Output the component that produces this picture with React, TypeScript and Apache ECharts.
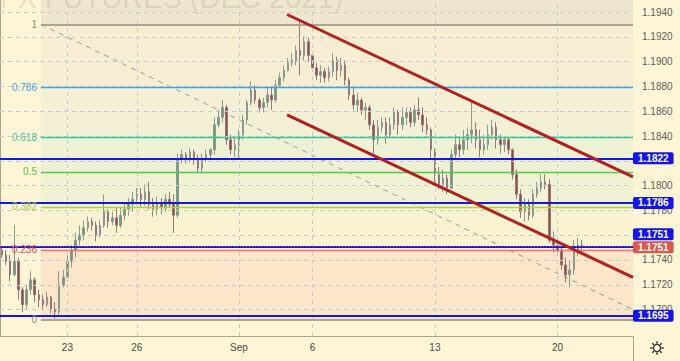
import React, { useEffect, useRef } from "react";
import * as echarts from "echarts";

// [open, close, low, high] per 4-hour slot
const candles: number[][] = [
  [1.1748, 1.1744, 1.1742, 1.1751],
  [1.1744, 1.1739, 1.1736, 1.1748],
  [1.1739, 1.1728, 1.1723, 1.1744],
  [1.1728, 1.1739, 1.1727, 1.1768],
  [1.1739, 1.1716, 1.1708, 1.1742],
  [1.1716, 1.1704, 1.1698, 1.1718],
  [1.1704, 1.1716, 1.17, 1.172],
  [1.1716, 1.1724, 1.1712, 1.1731],
  [1.1724, 1.1712, 1.1706, 1.1726],
  [1.1712, 1.1708, 1.1702, 1.1716],
  [1.1708, 1.1704, 1.17, 1.1712],
  [1.1704, 1.171, 1.1702, 1.1714],
  [1.171, 1.17, 1.1697, 1.1711],
  [1.17, 1.1698, 1.1693, 1.1706],
  [1.1698, 1.172, 1.1696, 1.1731],
  [1.172, 1.1726, 1.1718, 1.1732],
  [1.1726, 1.1739, 1.1723, 1.1744],
  [1.1739, 1.1748, 1.1734, 1.1752],
  [1.1748, 1.1756, 1.1742, 1.1762],
  [1.1756, 1.176, 1.1752, 1.1768],
  [1.176, 1.1766, 1.1756, 1.1772],
  [1.1766, 1.1771, 1.1763, 1.1775],
  [1.1771, 1.1768, 1.1764, 1.1774],
  [1.1768, 1.176, 1.1755, 1.1771],
  [1.176, 1.1768, 1.1758, 1.1772],
  [1.1768, 1.1779, 1.1766, 1.1793],
  [1.1779, 1.1771, 1.1766, 1.1781],
  [1.1771, 1.1774, 1.1768, 1.1779],
  [1.1774, 1.1768, 1.1762, 1.1782],
  [1.1768, 1.1776, 1.1766, 1.1782],
  [1.1776, 1.1781, 1.1772, 1.1786],
  [1.1781, 1.1785, 1.1776, 1.179],
  [1.1785, 1.1789, 1.1779, 1.1795],
  [1.1789, 1.1793, 1.1785, 1.1798],
  [1.1793, 1.1789, 1.1783, 1.1798],
  [1.1789, 1.1795, 1.1784, 1.1801],
  [1.1795, 1.1785, 1.1781, 1.1803],
  [1.1785, 1.1781, 1.1775, 1.179],
  [1.1781, 1.1786, 1.1776, 1.1791],
  [1.1786, 1.1782, 1.1777, 1.179],
  [1.1782, 1.1789, 1.1779, 1.1793],
  [1.1789, 1.1785, 1.1782, 1.1795],
  [1.1785, 1.1776, 1.1762, 1.1793],
  [1.1776, 1.1821, 1.1774, 1.1826],
  [1.1821, 1.1825, 1.1818, 1.1829],
  [1.1825, 1.1822, 1.1818, 1.1827],
  [1.1822, 1.1827, 1.1819, 1.183],
  [1.1827, 1.1821, 1.1817, 1.1829],
  [1.1821, 1.1814, 1.181, 1.1825],
  [1.1814, 1.1822, 1.181, 1.1826],
  [1.1822, 1.1825, 1.1819, 1.1829],
  [1.1825, 1.1829, 1.1822, 1.183],
  [1.1829, 1.1849, 1.1825, 1.1855],
  [1.1849, 1.1855, 1.1847, 1.1861],
  [1.1855, 1.1863, 1.1851, 1.1869],
  [1.1863, 1.1837, 1.1833, 1.1865],
  [1.1837, 1.1829, 1.1825, 1.1841],
  [1.1829, 1.1833, 1.1823, 1.1839],
  [1.1833, 1.1841, 1.1822, 1.1845],
  [1.1841, 1.1853, 1.1837, 1.1857],
  [1.1853, 1.1867, 1.1849, 1.1869],
  [1.1867, 1.1877, 1.1865, 1.1884],
  [1.1877, 1.1869, 1.1866, 1.1881],
  [1.1869, 1.1863, 1.1859, 1.1871],
  [1.1863, 1.1867, 1.1859, 1.1871],
  [1.1867, 1.1873, 1.1863, 1.1879],
  [1.1873, 1.1869, 1.1861, 1.188],
  [1.1869, 1.1881, 1.1867, 1.1885],
  [1.1881, 1.1887, 1.1879, 1.1891],
  [1.1887, 1.1893, 1.1884, 1.1897],
  [1.1893, 1.1899, 1.1892, 1.1903],
  [1.1899, 1.1901, 1.1896, 1.1907],
  [1.1901, 1.1909, 1.1897, 1.1913],
  [1.1909, 1.1905, 1.1889, 1.1932],
  [1.1905, 1.1916, 1.1901, 1.192],
  [1.1916, 1.1905, 1.19, 1.1919],
  [1.1905, 1.1895, 1.1892, 1.1908],
  [1.1895, 1.1889, 1.1885, 1.1899],
  [1.1889, 1.1892, 1.1883, 1.1897],
  [1.1892, 1.1887, 1.1883, 1.1895],
  [1.1887, 1.1892, 1.1884, 1.1896],
  [1.1892, 1.1901, 1.1888, 1.1907],
  [1.1901, 1.1893, 1.1885, 1.1904],
  [1.1893, 1.1897, 1.1888, 1.1903],
  [1.1897, 1.1885, 1.1881, 1.1901],
  [1.1885, 1.1873, 1.1869, 1.1887],
  [1.1873, 1.1865, 1.1861, 1.1879],
  [1.1865, 1.1869, 1.1859, 1.1875],
  [1.1869, 1.1861, 1.1857, 1.1871],
  [1.1861, 1.1863, 1.1853, 1.1867],
  [1.1863, 1.1849, 1.1845, 1.1865],
  [1.1849, 1.1837, 1.1826, 1.1853],
  [1.1837, 1.1847, 1.1833, 1.1853],
  [1.1847, 1.1851, 1.1843, 1.1855],
  [1.1851, 1.1841, 1.1834, 1.1855],
  [1.1841, 1.1849, 1.1839, 1.1855],
  [1.1849, 1.1859, 1.1845, 1.1863],
  [1.1859, 1.1849, 1.1841, 1.1861],
  [1.1849, 1.1855, 1.1845, 1.1863],
  [1.1855, 1.1859, 1.1849, 1.1863],
  [1.1859, 1.1851, 1.1847, 1.1863],
  [1.1851, 1.1861, 1.1848, 1.1865],
  [1.1861, 1.1857, 1.1853, 1.1871],
  [1.1857, 1.1849, 1.1843, 1.1863],
  [1.1849, 1.1845, 1.1841, 1.1855],
  [1.1845, 1.1829, 1.1822, 1.1847],
  [1.1829, 1.1809, 1.1801, 1.183],
  [1.1809, 1.1801, 1.1797, 1.1815],
  [1.1801, 1.1806, 1.1795, 1.1813],
  [1.1806, 1.1798, 1.1793, 1.1809],
  [1.1798, 1.1825, 1.1797, 1.1829],
  [1.1825, 1.1833, 1.1821, 1.1841],
  [1.1833, 1.1829, 1.1823, 1.1839],
  [1.1829, 1.1837, 1.1825, 1.1845],
  [1.1837, 1.1841, 1.1829, 1.1847],
  [1.1841, 1.1845, 1.1834, 1.1869],
  [1.1845, 1.1837, 1.183, 1.1851],
  [1.1837, 1.1829, 1.1823, 1.1845],
  [1.1829, 1.1833, 1.1825, 1.1841],
  [1.1833, 1.1841, 1.1829, 1.1849],
  [1.1841, 1.1847, 1.1837, 1.1853],
  [1.1847, 1.1837, 1.183, 1.1851],
  [1.1837, 1.1833, 1.1826, 1.1841],
  [1.1833, 1.1837, 1.1827, 1.1839],
  [1.1837, 1.1829, 1.1825, 1.1839],
  [1.1829, 1.1809, 1.1805, 1.183],
  [1.1809, 1.1793, 1.1789, 1.1813],
  [1.1793, 1.1779, 1.1774, 1.1797],
  [1.1779, 1.1785, 1.1771, 1.179],
  [1.1785, 1.1776, 1.1772, 1.1789],
  [1.1776, 1.1793, 1.1774, 1.1797],
  [1.1793, 1.1798, 1.179, 1.1803],
  [1.1798, 1.1803, 1.1795, 1.1809],
  [1.1803, 1.1801, 1.1797, 1.1809],
  [1.1801, 1.1756, 1.1754, 1.1805],
  [1.1756, 1.1752, 1.1746, 1.1763],
  [1.1752, 1.1748, 1.1744, 1.1758],
  [1.1748, 1.1736, 1.1732, 1.175],
  [1.1736, 1.1728, 1.1722, 1.1742],
  [1.1728, 1.1732, 1.1718, 1.1739],
  [1.1732, 1.1748, 1.1728, 1.1756],
  [1.1748, 1.1752, 1.1743, 1.1758],
  [1.1752, 1.1751, 1.1744, 1.1756],
];

const slotCount = 155;
const dayLabelSlots = [16, 33, 58, 76, 106, 136];
const dayLabelTexts = ["23", "26", "Sep", "6", "13", "20"];

const priceMin = 1.16787;
const priceMax = 1.19497;
const gridTicks = [1.17, 1.172, 1.174, 1.176, 1.178, 1.18, 1.182, 1.184, 1.186, 1.188, 1.19, 1.192, 1.194];
// tick labels fully covered by the price tags in the reference
const coveredTicks = [1.182, 1.176];

const fibRatios = [1, 0.786, 0.618, 0.5, 0.382, 0.236, 0];
const fibLabels = ["1", "0.786", "0.618", "0.5", "0.382", "0.236", "0"];
const fibHigh = 1.193;
const fibLow = 1.1692;
const fibStartSlot = 10.04;
const fibEndSlot = 160;
const fibLineColors = ["#aaa491", "#3d9fe6", "#2fcb98", "#54c947", "#b0d232", "#f0765f", "#aaa491"];
const fibTextColors = ["#8e8a7c", "#48a3e2", "#3fc89c", "#52c94a", "#a9cb3e", "#ee4b4b", "#8e8a7c"];
const fibZoneColors = ["#f6edd2", "#f3f0d5", "#eff1d5", "#f1f2d3", "#f8f2d0", "#fce5c8"];
const zoneAboveColor = "#efe6cf";

const levelLines = [1.1822, 1.1786, 1.1751, 1.1695];
const lastPrice = 1.1751;

const upperChannel = [
  [70.3, 1.1938],
  [155, 1.1807],
];
const lowerChannel = [
  [70.3, 1.1857],
  [155, 1.1726],
];

const bgColor = "#fdf5d6";
const axisColor = "#aaa391";
const gridColor = "#c6cad3";
const levelBlue = "#1414ee";
const priceRed = "#dc5848";
const channelRed = "#b41f1f";
const fontFamily = "'Liberation Sans', Arial, sans-serif";

export default function App() {
  const ref = useRef<HTMLDivElement>(null);

  useEffect(() => {
    if (!ref.current) return;
    const chart = echarts.init(ref.current, undefined, { renderer: "svg" });

    const fibPrice = (r: number) => fibLow + r * (fibHigh - fibLow);
    const categories = Array.from({ length: slotCount }, (_, i) => "s" + i);
    const labelAt: Record<number, string> = {};
    dayLabelSlots.forEach((s, k) => (labelAt[s] = dayLabelTexts[k]));

    const zones: any[] = [
      [
        { coord: [fibStartSlot, fibHigh], itemStyle: { color: zoneAboveColor, opacity: 1 } },
        { coord: [slotCount, priceMax] },
      ],
    ];
    for (let k = 0; k < fibRatios.length - 1; k++) {
      zones.push([
        { coord: [fibStartSlot, fibPrice(fibRatios[k])], itemStyle: { color: fibZoneColors[k], opacity: 1 } },
        { coord: [slotCount, fibPrice(fibRatios[k + 1])] },
      ]);
    }

    const gridLines: any[] = [
      ...gridTicks.map((v) => [{ coord: [0, v] }, { coord: [slotCount, v] }]),
      ...dayLabelSlots.map((s) => [{ coord: [s + 0.5, priceMin] }, { coord: [s + 0.5, priceMax] }]),
    ];

    const fibLines = fibRatios.map((r, k) => [
      {
        coord: [fibStartSlot, fibPrice(r)],
        lineStyle: { color: fibLineColors[k], width: r === 1 || r === 0 ? 2 : 1.3, type: "solid" },
        label: {
          show: true,
          position: "start",
          formatter: fibLabels[k],
          color: fibTextColors[k],
          fontSize: 10,
          fontFamily,
          distance: 4,
        },
      },
      { coord: [slotCount, fibPrice(r)] },
    ]);

    const tagLabel = (text: string, bg: string, offsetY: number) => ({
      show: true,
      position: "end",
      formatter: text,
      backgroundColor: bg,
      color: "#ffffff",
      fontWeight: "bold",
      fontSize: 10,
      fontFamily,
      lineHeight: 11,
      padding: [1, 5, 0, 5],
      borderRadius: 2,
      distance: 0,
      offset: [0, offsetY],
    });

    const levelData: any[] = levelLines.map((v) => ({
      yAxis: v,
      lineStyle: { color: levelBlue, width: 2, type: "solid" },
      label: tagLabel(v.toFixed(4), levelBlue, v === lastPrice ? -12 : 0),
    }));
    levelData.push({
      yAxis: lastPrice,
      lineStyle: { color: "#e5463a", width: 1, type: [1, 2] },
      label: tagLabel(lastPrice.toFixed(4), priceRed, 1),
    });

    const gearLines: any[] = [];
    for (let k = 0; k < 8; k++) {
      const a = (k * Math.PI) / 4;
      gearLines.push({
        type: "line",
        shape: {
          x1: 657 + Math.cos(a) * 4.5,
          y1: 348 + Math.sin(a) * 4.5,
          x2: 657 + Math.cos(a) * 6.8,
          y2: 348 + Math.sin(a) * 6.8,
        },
        style: { stroke: "#3a3a3a", lineWidth: 1.5 },
      });
    }

    const option: any = {
      animation: false,
      backgroundColor: bgColor,
      textStyle: { fontFamily },
      grid: { left: 0, right: 47, top: 0, bottom: 25, containLabel: false },
      xAxis: [
        {
          type: "category",
          data: categories,
          boundaryGap: true,
          axisLine: { show: true, lineStyle: { color: axisColor, width: 1 } },
          axisTick: { show: false },
          splitLine: { show: false },
          axisLabel: {
            interval: (i: number) => labelAt[i] !== undefined,
            formatter: (_v: string, i: number) => labelAt[i] ?? "",
            color: "#4a4a4a",
            fontSize: 10,
            margin: 6,
            fontFamily,
          },
        },
        { type: "value", min: 0, max: slotCount, show: false },
      ],
      yAxis: {
        type: "value",
        position: "right",
        min: priceMin,
        max: priceMax,
        splitNumber: 13,
        axisLine: { show: true, lineStyle: { color: axisColor, width: 1 } },
        axisTick: { show: false },
        splitLine: { show: false },
        axisLabel: {
          color: "#5e5e5e",
          fontSize: 10,
          margin: 9,
          fontFamily,
          formatter: (v: number) => {
            const k = Math.round(v / 0.002);
            if (Math.abs(v - k * 0.002) > 1e-7 || v < 1.1695 || v > 1.1945) return "";
            if (coveredTicks.some((c) => Math.abs(c - v) < 1e-7)) return "";
            return v.toFixed(4);
          },
        },
      },
      graphic: [
        {
          type: "text",
          x: 343,
          y: -2,
          z: 1.5,
          silent: true,
          style: {
            text: "EURO FX FUTURES (DEC 2021)",
            font: "29px 'Liberation Sans', Arial, sans-serif",
            fill: "rgba(140,130,110,0.2)",
            align: "right",
            verticalAlign: "middle",
          },
        },
        {
          type: "line",
          shape: { x1: 633.5, y1: 336, x2: 633.5, y2: 361 },
          style: { stroke: axisColor, lineWidth: 1 },
        },
        {
          type: "circle",
          shape: { cx: 657, cy: 348, r: 3.6 },
          style: { stroke: "#3a3a3a", lineWidth: 1.5, fill: "none" },
        },
        ...gearLines,
      ],
      series: [
        {
          type: "line",
          name: "zones",
          xAxisIndex: 1,
          data: [],
          z: 1,
          silent: true,
          symbol: "none",
          markArea: { silent: true, data: zones },
        },
        {
          type: "line",
          name: "grid",
          xAxisIndex: 1,
          data: [],
          z: 2,
          silent: true,
          symbol: "none",
          markLine: {
            silent: true,
            precision: 5,
            symbol: ["none", "none"],
            label: { show: false },
            lineStyle: { color: gridColor, type: [4, 4], width: 1 },
            data: gridLines,
          },
        },
        {
          type: "line",
          name: "fib",
          xAxisIndex: 1,
          data: [
            [fibStartSlot, fibHigh],
            [fibEndSlot, fibLow],
          ],
          z: 3,
          silent: true,
          symbol: "none",
          clip: true,
          lineStyle: { color: "#a09b8d", type: [5, 5], width: 1 },
          markLine: { silent: true, precision: 5, symbol: ["none", "none"], data: fibLines },
        },
        {
          type: "candlestick",
          name: "price",
          xAxisIndex: 0,
          data: candles,
          z: 4,
          barWidth: 2,
          itemStyle: {
            color: "#6c9e7b",
            color0: "#9d4545",
            borderColor: "#8b9a8f",
            borderColor0: "#967878",
            borderWidth: 1,
          },
        },
        {
          type: "line",
          name: "levels",
          xAxisIndex: 1,
          data: [],
          z: 5,
          silent: true,
          symbol: "none",
          markLine: { silent: true, precision: 5, symbol: ["none", "none"], data: levelData },
        },
        {
          type: "line",
          name: "upper",
          xAxisIndex: 1,
          data: upperChannel,
          z: 6,
          silent: true,
          symbol: "none",
          lineStyle: { color: channelRed, width: 3 },
        },
        {
          type: "line",
          name: "lower",
          xAxisIndex: 1,
          data: lowerChannel,
          z: 6,
          silent: true,
          symbol: "none",
          lineStyle: { color: channelRed, width: 3 },
        },
      ],
    };

    chart.setOption(option);
    return () => chart.dispose();
  }, []);

  return <div ref={ref} style={{ position: "fixed", left: 0, top: 0, width: 680, height: 361 }} />;
}
